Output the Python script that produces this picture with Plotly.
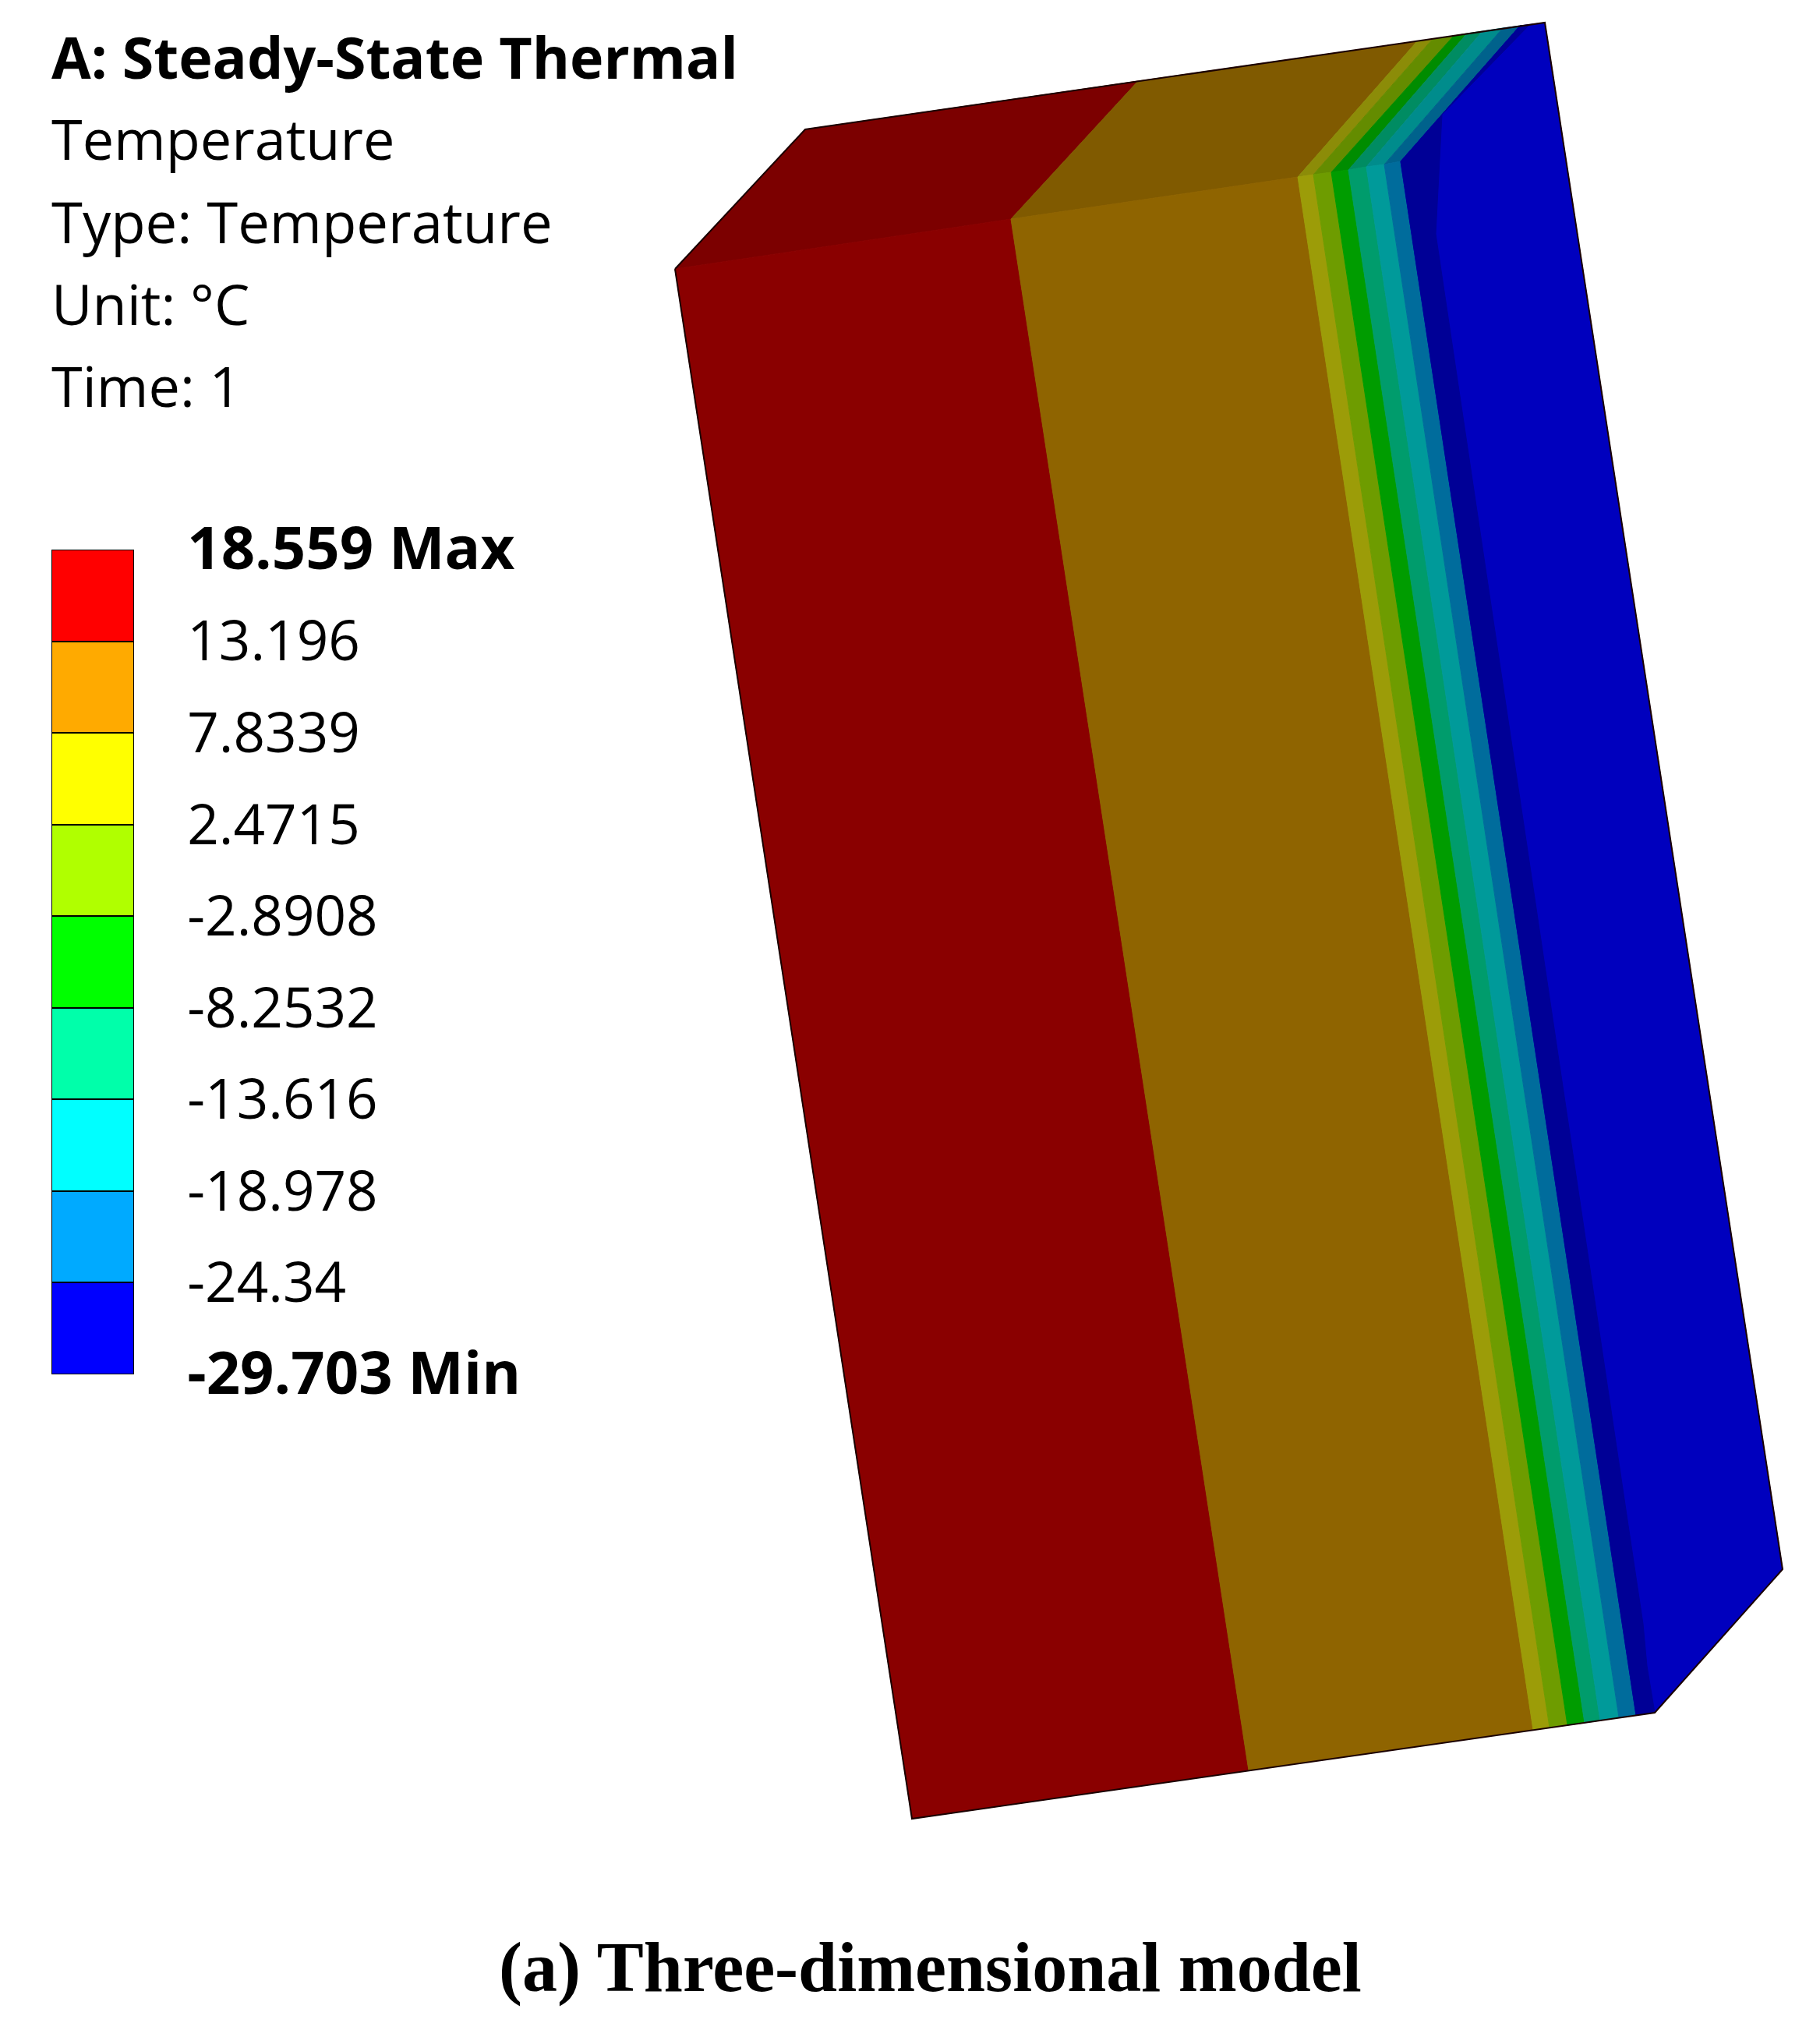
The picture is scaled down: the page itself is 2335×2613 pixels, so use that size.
import plotly.graph_objects as go

W = 2335
H = 2613

# legend of the temperature contour
legend_values = [18.559, 13.196, 7.8339, 2.4715, -2.8908, -8.2532, -13.616, -18.978, -24.34, -29.703]
legend_labels = ['<span style="font-size:76px"><b>18.559 Max</b></span>', "13.196", "7.8339", "2.4715", "-2.8908", "-8.2532", "-13.616", "-18.978", "-24.34",
                 '<span style="font-size:76px"><b>-29.703 Min</b></span>']
legend_colors = ["#ff0000", "#ffaa00", "#ffff00", "#b0ff00", "#00ff00", "#00ffaa", "#00ffff", "#00aaff", "#0000ff"]

header_lines = ["<b>A: Steady-State Thermal</b>", "Temperature", "Type: Temperature", "Unit: °C", "Time: 1"]
header_y = [72, 177, 284, 389, 494]
header_sizes = [73.5, 72, 72.5, 72, 72]
caption = "<b>(a) Three-dimensional model</b>"

# block layers, read in picture pixels (left to right across the slab)
front_top_x = [866, 1297, 1665, 1685, 1708, 1730, 1753, 1776, 1797]
front_top_y = [345, 281, 227, 224, 221, 218, 214, 211, 207]
front_bottom_x = [1170, 1602, 1967, 1988, 2011, 2033, 2053, 2077, 2099]
front_bottom_y = [2333, 2271, 2219, 2216, 2213, 2210, 2207, 2203, 2200]
back_top_x = [1033, 1460, 1818, 1838, 1865, 1882, 1902, 1928, 1950]
back_top_y = [166, 104, 53, 50, 46, 43, 40, 36, 33]
front_colors = ["#8a0000", "#8f6400", "#9c9c08", "#6e9c00", "#009c00", "#009c6c", "#009a9a", "#006c9c"]
top_colors = ["#7c0000", "#805a00", "#8c8c08", "#648c00", "#008c00", "#008c62", "#008c8c", "#00628c"]

# end face and its darker strip
end_x = [1797, 1950, 1982, 2287, 2123, 2099]
end_y = [207, 33, 29, 2013, 2197, 2200]
strip_x = [1950, 1797, 2099, 2123, 2113, 2108, 2088, 1842, 1850, 1962]
strip_y = [33, 207, 2200, 2197, 2137, 2083, 1950, 300, 147, 32]
outline_x = [866, 1033, 1982, 2287, 2123, 1170, 866]
outline_y = [345, 166, 29, 2013, 2197, 2333, 345]


def add_face(fig, xs, ys, color):
    fig.add_trace(go.Scatter(x=xs, y=ys, mode="lines", fill="toself", fillcolor=color,
                             line=dict(color=color, width=1), hoverinfo="skip", showlegend=False))


fig = go.Figure()

for i in range(len(front_colors)):
    add_face(fig,
             [back_top_x[i], back_top_x[i + 1], front_top_x[i + 1], front_top_x[i], back_top_x[i]],
             [back_top_y[i], back_top_y[i + 1], front_top_y[i + 1], front_top_y[i], back_top_y[i]],
             top_colors[i])
    add_face(fig,
             [front_top_x[i], front_top_x[i + 1], front_bottom_x[i + 1], front_bottom_x[i], front_top_x[i]],
             [front_top_y[i], front_top_y[i + 1], front_bottom_y[i + 1], front_bottom_y[i], front_top_y[i]],
             front_colors[i])

add_face(fig, end_x + end_x[:1], end_y + end_y[:1], "#0000be")
add_face(fig, strip_x + strip_x[:1], strip_y + strip_y[:1], "#000096")

fig.add_trace(go.Scatter(x=outline_x, y=outline_y, mode="lines", line=dict(color="#1a0000", width=2),
                         hoverinfo="skip", showlegend=False))

# colour legend: one bar per band between two legend values
fig.add_trace(go.Bar(x=[0] * len(legend_colors),
                     y=[legend_values[i] - legend_values[i + 1] for i in range(len(legend_colors))],
                     base=legend_values[1:],
                     marker=dict(color=legend_colors, line=dict(color="black", width=2)),
                     width=1, xaxis="x2", yaxis="y2", hoverinfo="skip", showlegend=False))

for line, y, size in zip(header_lines, header_y, header_sizes):
    fig.add_annotation(x=64, y=y, xref="x", yref="y", text=line, showarrow=False, xanchor="left", yanchor="middle",
                       font=dict(family="Open Sans", size=size, color="black"))
fig.add_annotation(x=1193, y=2524, xref="x", yref="y", text=caption, showarrow=False, xanchor="center", yanchor="middle",
                   font=dict(family="Liberation Serif", size=90, color="black"))

fig.update_layout(
    template="none",
    width=W, height=H,
    margin=dict(l=0, r=0, t=0, b=0),
    paper_bgcolor="white", plot_bgcolor="white",
    bargap=0,
    xaxis=dict(range=[0, W], visible=False, domain=[0, 1], automargin=False),
    yaxis=dict(range=[H, 0], visible=False, domain=[0, 1], automargin=False),
    xaxis2=dict(range=[-0.5, 0.5], visible=False, domain=[66 / W, 172 / W], anchor="y2", automargin=False),
    yaxis2=dict(range=[legend_values[-1], legend_values[0]], domain=[1 - 1763 / H, 1 - 705 / H], automargin=False,
                anchor="x2", side="right", tickmode="array", tickvals=legend_values, ticktext=legend_labels,
                showgrid=False, zeroline=False, showline=False, ticks="outside", ticklen=53, tickcolor="rgba(0,0,0,0)",
                tickfont=dict(family="Open Sans", size=71, color="black")),
)

fig.write_html("out.html", config=dict(displayModeBar=False), post_script="document.body.style.margin='0';")
